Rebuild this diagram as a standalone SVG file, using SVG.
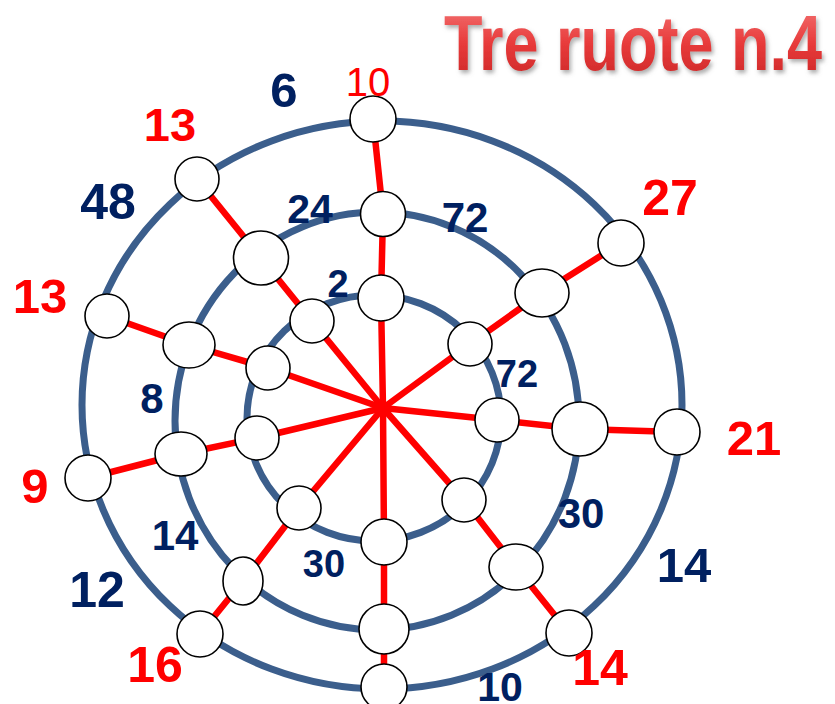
<svg xmlns="http://www.w3.org/2000/svg" width="835" height="704" viewBox="0 0 835 704">
<style>
.ring{fill:none;stroke:#3b5e8c;stroke-width:7}
.spoke{fill:none;stroke:#ff0000;stroke-width:6.5;stroke-linejoin:round}
.nd{fill:#ffffff;stroke:#000000;stroke-width:1.6}
.lb{font-family:"Liberation Sans",Arial,sans-serif;font-weight:bold;text-anchor:middle}
.r{fill:#ff0000}
.b{fill:#002060}
</style>
<defs>
<linearGradient id="tg" x1="0" y1="0" x2="0" y2="1">
<stop offset="0" stop-color="#f47a7a"/>
<stop offset="0.5" stop-color="#e83b3b"/>
<stop offset="1" stop-color="#c92424"/>
</linearGradient>
<filter id="sh" x="-10%" y="-20%" width="120%" height="150%">
<feDropShadow dx="2" dy="3" stdDeviation="2" flood-color="#777777" flood-opacity="0.6"/>
</filter>
</defs>
<rect width="835" height="704" fill="#ffffff"/>
<text x="444" y="70" font-family="'Liberation Sans',Arial,sans-serif" font-weight="bold" font-size="78" textLength="378" lengthAdjust="spacingAndGlyphs" fill="url(#tg)" filter="url(#sh)">Tre ruote n.4</text>
<g id="rings">
<ellipse class="ring" cx="382" cy="405" rx="300" ry="284"/>
<ellipse class="ring" cx="377" cy="421" rx="202" ry="209"/>
<ellipse class="ring" cx="374" cy="418" rx="127" ry="123"/>
</g>
<g id="connectors">
<polyline class="spoke" points="383,408 381,298 383,214 373,119"/>
<polyline class="spoke" points="383,408 312,321 261,258 197,179"/>
<polyline class="spoke" points="383,408 268,368 189,345 107,316"/>
<polyline class="spoke" points="383,408 257,438 181,454 88,478"/>
<polyline class="spoke" points="383,408 299,508 243,581 200,634"/>
<polyline class="spoke" points="383,408 384,542 384,629 384,687"/>
<polyline class="spoke" points="383,408 464,500 516,567 569,633"/>
<polyline class="spoke" points="383,408 497,420 580,429 677,432"/>
<polyline class="spoke" points="383,408 470,344 542,293 621,243"/>
</g>
<g id="n-in-top"><circle class="nd" cx="381" cy="298" r="23"/></g>
<g id="n-in-ul"><circle class="nd" cx="312" cy="321" r="22"/></g>
<g id="n-in-lu"><circle class="nd" cx="268" cy="368" r="22"/></g>
<g id="n-in-l"><circle class="nd" cx="257" cy="438" r="22"/></g>
<g id="n-in-ll"><circle class="nd" cx="299" cy="508" r="22"/></g>
<g id="n-in-b"><circle class="nd" cx="384" cy="542" r="23"/></g>
<g id="n-in-lr"><circle class="nd" cx="464" cy="500" r="22"/></g>
<g id="n-in-r"><circle class="nd" cx="497" cy="420" r="22"/></g>
<g id="n-in-ur"><circle class="nd" cx="470" cy="344" r="22"/></g>
<g id="n-mid-top"><circle class="nd" cx="383" cy="214" r="22.5"/></g>
<g id="n-mid-ul"><ellipse class="nd" cx="261" cy="258" rx="27.5" ry="27"/></g>
<g id="n-mid-lu"><ellipse class="nd" cx="189" cy="345" rx="26" ry="23"/></g>
<g id="n-mid-l"><ellipse class="nd" cx="181" cy="454" rx="26" ry="22"/></g>
<g id="n-mid-ll"><ellipse class="nd" cx="243" cy="581" rx="20" ry="24"/></g>
<g id="n-mid-b"><circle class="nd" cx="384" cy="629" r="25"/></g>
<g id="n-mid-lr"><ellipse class="nd" cx="516" cy="567" rx="27" ry="23"/></g>
<g id="n-mid-r"><ellipse class="nd" cx="580" cy="429" rx="28" ry="27"/></g>
<g id="n-mid-ur"><ellipse class="nd" cx="542" cy="293" rx="27" ry="24"/></g>
<g id="n-out-top"><circle class="nd" cx="373" cy="119" r="23"/></g>
<g id="n-out-ul"><circle class="nd" cx="197" cy="179" r="22"/></g>
<g id="n-out-lu"><circle class="nd" cx="107" cy="316" r="22"/></g>
<g id="n-out-l"><circle class="nd" cx="88" cy="478" r="23"/></g>
<g id="n-out-ll"><circle class="nd" cx="200" cy="634" r="23"/></g>
<g id="n-out-b"><circle class="nd" cx="384" cy="687" r="23"/></g>
<g id="n-out-lr"><circle class="nd" cx="569" cy="633" r="23"/></g>
<g id="n-out-r"><circle class="nd" cx="677" cy="432" r="23"/></g>
<g id="n-out-ur"><circle class="nd" cx="621" cy="243" r="23"/></g>
<g id="labels">
<text class="lb r" x="368" y="96" font-size="40" style="font-weight:normal">10</text>
<text class="lb r" x="170" y="141" font-size="47">13</text>
<text class="lb b" x="284" y="107" font-size="49">6</text>
<text class="lb b" x="108" y="219" font-size="50">48</text>
<text class="lb b" x="310" y="223" font-size="41">24</text>
<text class="lb b" x="338" y="297" font-size="38">2</text>
<text class="lb b" x="465" y="232" font-size="42">72</text>
<text class="lb r" x="670" y="215" font-size="50">27</text>
<text class="lb r" x="40" y="313" font-size="49">13</text>
<text class="lb b" x="517" y="387" font-size="38">72</text>
<text class="lb r" x="754" y="455" font-size="49">21</text>
<text class="lb b" x="152" y="413" font-size="42">8</text>
<text class="lb r" x="35" y="503" font-size="49">9</text>
<text class="lb b" x="175" y="550" font-size="42">14</text>
<text class="lb b" x="97" y="607" font-size="50">12</text>
<text class="lb b" x="324" y="577" font-size="38">30</text>
<text class="lb r" x="155" y="682" font-size="50">16</text>
<text class="lb b" x="581" y="528" font-size="42">30</text>
<text class="lb b" x="684" y="582" font-size="49">14</text>
<text class="lb r" x="600" y="685" font-size="50">14</text>
<text class="lb b" x="500" y="701" font-size="41">10</text>
</g>
</svg>
